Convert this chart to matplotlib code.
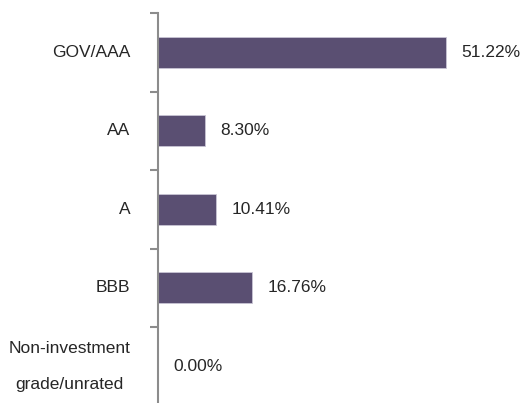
import matplotlib.pyplot as plt
import numpy as np

categories = ['GOV/AAA', 'AA', 'A', 'BBB', 'Non-investment\ngrade/unrated']
values = [51.22, 8.30, 10.41, 16.76, 0.00]

plt.rcParams['font.family'] = ['Liberation Sans', 'DejaVu Sans']

fig = plt.figure(figsize=(5.23, 4.03), dpi=100)
ax = fig.add_axes([158 / 523, -2.5 / 403, 365 / 523, 392.5 / 403])

pos = np.arange(len(categories))
ax.barh(pos, values, height=0.4, color='#5a4f72', edgecolor='#c8c4d4', linewidth=0.6)

for y, v in zip(pos, values):
    ax.annotate('%.2f%%' % v, (v, y), xytext=(11, 0), textcoords='offset points',
                va='center', ha='left', fontsize=12.5, color='#262626')

ax.set_xlim(0, 65)
ax.set_ylim(len(categories) - 0.5, -0.5)

ax.set_yticks(pos)
ax.set_yticklabels(categories, fontsize=12.5, color='#262626', linespacing=2.75)
ax.set_yticks(np.arange(len(categories) + 1) - 0.5, minor=True)
ax.tick_params(axis='y', which='major', length=0, pad=20)
ax.tick_params(axis='y', which='minor', length=6, width=1.5, color='#8c8c8c')
for lbl in ax.get_yticklabels():
    lbl.set_multialignment('center')
    lbl.set_va('center')

ax.set_xticks([])
for s in ['top', 'right', 'bottom']:
    ax.spines[s].set_visible(False)
ax.spines['left'].set_color('#8c8c8c')
ax.spines['left'].set_linewidth(1.5)

fig.savefig('out.png', dpi=100)
